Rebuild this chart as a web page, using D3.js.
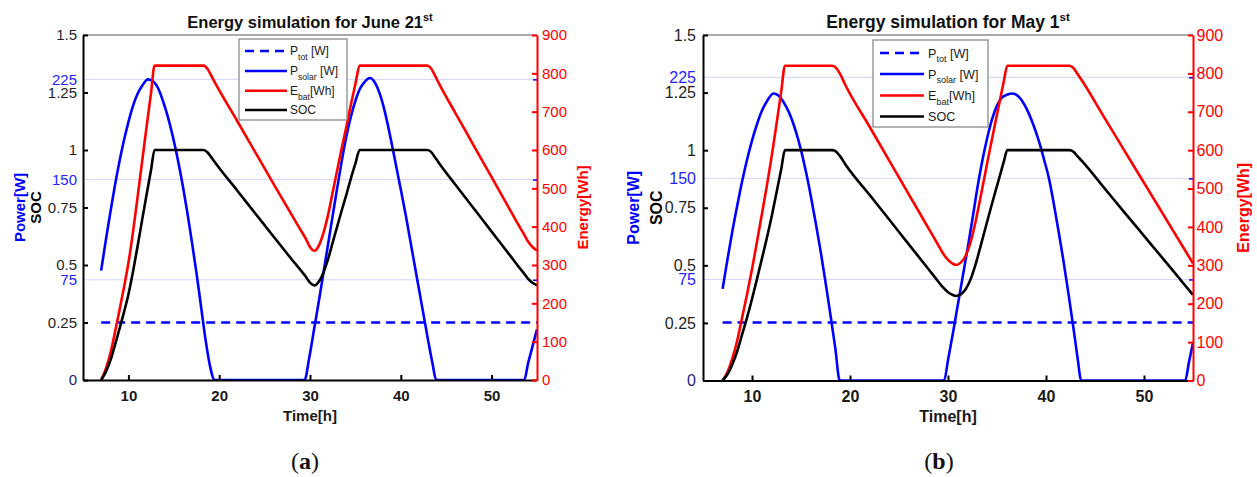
<!DOCTYPE html>
<html>
<head>
<meta charset="utf-8">
<script src="https://cdn.jsdelivr.net/npm/d3@7"></script>
<style>
  html, body { margin: 0; padding: 0; background: #fff; }
  svg { display: block; }
</style>
</head>
<body>
<svg id="fig" width="1257" height="477"></svg>
<script>
// ---- shared axes content ----
const timeDomain = [5, 55];
const socDomain = [0, 1.5];
const energyDomain = [0, 900];
const timeTicks = [10, 20, 30, 40, 50];
const socTicks = [0, 0.25, 0.5, 0.75, 1, 1.25, 1.5];
const socTickLabels = ["0", "0.25", "0.5", "0.75", "1", "1.25", "1.5"];
const powerTicks = [0, 75, 150, 225];
const energyTicks = [0, 100, 200, 300, 400, 500, 600, 700, 800, 900];
const legendLabels = [["P", "tot", " [W]"], ["P", "solar", " [W]"], ["E", "bat", "[Wh]"], ["SOC", "", ""]];
const panelTitles = ["Energy simulation for June 21", "Energy simulation for May 1"];
const panelLetters = ["a", "b"];

// ---- June 21st ----
const juneLoadT = [7, 55];
const juneLoadW = [43, 43];
const juneSolarT = [7, 7.5, 8, 8.5, 9, 9.5, 10, 10.5, 11, 11.5, 12.15, 12.8, 13.3, 13.8, 14.3, 14.9, 15.5, 16, 16.5, 17,
  17.5, 18, 18.5, 19, 19.5, 29.4, 29.9, 30.5, 31, 31.5, 32, 32.5, 33, 33.5, 34, 34.5, 35, 35.5, 36, 36.6,
  37.2, 37.7, 38.2, 38.6, 39.2, 39.9, 40.5, 41, 41.5, 42, 42.5, 43, 43.5, 43.9, 53.6, 54, 54.5, 55];
const juneSolarW = [82, 104, 125, 145, 163, 179, 193, 205, 214, 220, 225, 223, 218, 209, 198, 182, 163, 145, 125, 103,
  80, 55, 30, 10, 0, 0, 16, 40, 60, 81, 102, 123, 144, 164, 182, 197, 209, 218, 223, 226,
  222, 214, 202, 190, 170, 146, 125, 106, 87, 68, 49, 30, 12, 0, 0, 12, 25, 38];
const juneBatT = [7, 7.5, 8, 8.5, 9, 9.5, 10, 10.5, 11, 11.5, 12, 12.5, 12.88,
  18.3, 18.7, 19.1, 19.67, 22, 24, 26, 28, 29, 29.5,
  30, 30.5, 31, 31.5, 32, 32.5, 33, 33.5, 34, 34.5,
  35, 35.47, 42.9, 43.3, 43.7, 44.3, 46, 48, 50, 52,
  53, 53.5, 54, 54.5, 55];
const juneBatWh = [0, 28, 68, 122, 180, 240, 305, 385, 475, 568, 660, 750, 820,
  820, 812, 795, 770, 675, 593, 511, 430, 390, 370,
  347, 337, 352, 385, 432, 490, 548, 605, 660, 718,
  772, 820, 820, 814, 797, 769, 697, 613, 529, 445,
  403, 383, 362, 347, 338];
const juneSoc = [0, 0.034, 0.083, 0.149, 0.22, 0.293, 0.372, 0.47, 0.579, 0.693, 0.805, 0.915, 1,
  1, 0.99, 0.97, 0.939, 0.823, 0.723, 0.623, 0.524, 0.476, 0.451,
  0.423, 0.411, 0.429, 0.47, 0.527, 0.598, 0.668, 0.738, 0.805, 0.876,
  0.941, 1, 1, 0.993, 0.972, 0.938, 0.85, 0.748, 0.645, 0.543,
  0.491, 0.467, 0.441, 0.423, 0.412];

// ---- May 1st ----
const mayLoadT = [7, 55];
const mayLoadW = [43, 43];
const maySolarT = [7, 7.5, 8, 8.5, 9, 9.5, 10, 10.5, 11, 11.5, 12.2, 12.9, 13.5, 14, 14.55, 15, 15.56, 16, 16.5, 17,
  17.5, 18, 18.5, 18.95, 29.6, 30, 30.5, 31, 31.5, 32, 32.5, 33, 33.5, 34, 34.5, 35, 35.5, 36, 36.6, 37.3,
  38, 38.7, 39.3, 39.8, 40.3, 40.8, 41.3, 41.8, 42.3, 42.8, 43.2, 43.6, 54.2, 54.6, 55];
const maySolarW = [68, 90, 111, 130, 148, 164, 178, 190, 200, 207, 213, 210, 203, 195, 183, 171, 153, 137, 117, 96,
  73, 49, 24, 0, 0, 15, 35, 56, 77, 98, 120, 143, 163, 180, 194, 204, 210, 212, 213, 210,
  202, 190, 177, 164, 150, 131, 110, 88, 64, 39, 18, 0, 0, 14, 28];
const mayBatT = [7, 7.5, 8, 8.5, 9, 9.5, 10, 10.5, 11, 11.5, 12, 12.5, 13, 13.36,
  18.2, 18.6, 19, 19.5, 22, 24, 26, 28, 29, 29.5,
  30, 30.5, 30.8, 31.3, 31.8, 32.3, 32.8, 33.3, 33.8, 34.3,
  34.8, 35.3, 35.7, 36.05, 42.4, 42.8, 43.2, 43.7, 46, 48,
  50, 52, 54, 55];
const mayBatWh = [0, 22, 58, 105, 165, 225, 290, 360, 432, 505, 583, 668, 756, 820,
  820, 814, 798, 771, 661, 573, 485, 397, 353, 331,
  314, 304, 301, 307, 325, 360, 412, 475, 540, 605,
  668, 730, 780, 820, 820, 814, 799, 780, 683, 599,
  515, 431, 347, 305];
const maySoc = [0, 0.027, 0.071, 0.128, 0.201, 0.274, 0.354, 0.439, 0.527, 0.616, 0.711, 0.815, 0.922, 1,
  1, 0.993, 0.973, 0.94, 0.806, 0.699, 0.591, 0.484, 0.43, 0.404,
  0.383, 0.371, 0.367, 0.374, 0.396, 0.439, 0.502, 0.579, 0.659, 0.738,
  0.815, 0.89, 0.951, 1, 1, 0.993, 0.974, 0.951, 0.833, 0.73,
  0.628, 0.526, 0.423, 0.372];

const SANS = "'Liberation Sans', Arial, Helvetica, sans-serif";
const SERIF = "'Liberation Serif', 'Times New Roman', serif";
const BLUE = "#0000ff", RED = "#ff0000", BLACK = "#000000";

const svg = d3.select("#fig");
const defs = svg.append("defs");

function drawPanel(p) {
  const x = d3.scaleLinear().domain(timeDomain).range([p.left, p.right]);
  const ySoc = d3.scaleLinear().domain(socDomain).range([p.bottom, p.top]);
  const yEnergy = d3.scaleLinear().domain(energyDomain).range([p.bottom, p.top]);
  const yPower = d3.scaleLinear().domain([0, p.powerMax]).range([p.bottom, p.top]);
  const fs = p.fontSize;
  const g = svg.append("g").attr("font-family", SANS);

  defs.append("clipPath").attr("id", p.id + "-clip")
    .append("rect")
    .attr("x", p.left).attr("y", p.top)
    .attr("width", p.right - p.left).attr("height", p.bottom - p.top);

  // faint grid at the power ticks
  g.append("g").selectAll("line").data(powerTicks.slice(1)).join("line")
    .attr("x1", p.left).attr("x2", p.right)
    .attr("y1", d => yPower(d)).attr("y2", d => yPower(d))
    .attr("stroke", "#d3d3ff").attr("stroke-width", 1);

  // top edge of the box
  g.append("line")
    .attr("x1", p.left).attr("x2", p.right).attr("y1", p.top).attr("y2", p.top)
    .attr("stroke", "#8c8c8c").attr("stroke-width", 1.3);

  // curves
  const plot = g.append("g").attr("clip-path", `url(#${p.id}-clip)`);
  const pathOf = (ts, vs, scale) => d3.line()
    .x(d => x(d[0])).y(d => scale(d[1]))
    .curve(d3.curveMonotoneX)(d3.zip(ts, vs));
  const series = [
    { d: pathOf(p.loadT, p.loadW, yPower), color: BLUE, dash: "9 6" },
    { d: pathOf(p.solarT, p.solarW, yPower), color: BLUE, dash: null },
    { d: pathOf(p.batT, p.batWh, yEnergy), color: RED, dash: null },
    { d: pathOf(p.batT, p.soc, ySoc), color: BLACK, dash: null }
  ];
  series.forEach(s => {
    plot.append("path").attr("d", s.d)
      .attr("fill", "none").attr("stroke", s.color).attr("stroke-width", 2.6)
      .attr("stroke-linejoin", "round")
      .attr("stroke-dasharray", s.dash);
  });

  // power labels (left, blue)
  const gp = g.append("g").attr("transform", `translate(${p.left},0)`)
    .call(d3.axisLeft(yPower).tickValues(powerTicks).tickSize(0).tickPadding(p.leftPad));
  gp.attr("font-family", SANS).attr("font-size", fs);
  gp.select(".domain").remove();
  gp.selectAll("text").attr("fill", d => d === 0 ? "#1d1d78" : "#2424ff");

  // power tick marks on the right edge
  const gpr = g.append("g").attr("transform", `translate(${p.right},0)`)
    .call(d3.axisRight(yPower).tickValues(powerTicks.slice(1)).tickSize(-4).tickFormat(""));
  gpr.select(".domain").remove();
  gpr.selectAll(".tick line").attr("stroke", BLUE).attr("stroke-width", 1.5);

  // time axis
  const gx = g.append("g").attr("transform", `translate(0,${p.bottom})`)
    .call(d3.axisBottom(x).tickValues(timeTicks).tickSize(-5).tickSizeOuter(0).tickPadding(p.bottomPad));
  gx.attr("font-family", SANS).attr("font-size", fs);
  gx.select(".domain").attr("stroke", BLACK).attr("stroke-width", 2);
  gx.selectAll(".tick line").attr("stroke", BLACK).attr("stroke-width", 2);
  gx.selectAll("text").attr("fill", "#1a1a1a").attr("font-weight", "bold");

  // SOC axis (left)
  const gs = g.append("g").attr("transform", `translate(${p.left},0)`)
    .call(d3.axisLeft(ySoc).tickValues(socTicks)
      .tickFormat(d => d === 0 ? "" : socTickLabels[socTicks.indexOf(d)])
      .tickSize(-5).tickSizeOuter(0).tickPadding(p.leftPad));
  gs.attr("font-family", SANS).attr("font-size", fs);
  gs.select(".domain").attr("stroke", BLACK).attr("stroke-width", 2);
  gs.selectAll(".tick line").attr("stroke", BLACK).attr("stroke-width", 2);
  gs.selectAll("text").attr("fill", "#1f1f1f");

  // energy axis (right)
  const ge = g.append("g").attr("transform", `translate(${p.right},0)`)
    .call(d3.axisRight(yEnergy).tickValues(energyTicks).tickSize(-5).tickSizeOuter(0).tickPadding(p.rightPad));
  ge.attr("font-family", SANS).attr("font-size", fs);
  ge.select(".domain").attr("stroke", RED).attr("stroke-width", 2);
  ge.selectAll(".tick line").attr("stroke", RED).attr("stroke-width", 2);
  ge.selectAll("text").attr("fill", RED);

  // axis titles
  const midY = (p.top + p.bottom) / 2;
  const yTitle = (xPos, color, label) => g.append("text")
    .attr("transform", `translate(${xPos},${midY}) rotate(-90)`)
    .attr("text-anchor", "middle").attr("font-weight", "bold")
    .attr("font-size", fs).attr("fill", color).text(label);
  yTitle(p.powerTitleX, BLUE, "Power[W]");
  yTitle(p.socTitleX, BLACK, "SOC");
  yTitle(p.energyTitleX, RED, "Energy[Wh]");

  g.append("text")
    .attr("x", (p.left + p.right) / 2).attr("y", p.timeTitleY)
    .attr("text-anchor", "middle").attr("font-weight", "bold")
    .attr("font-size", fs).attr("fill", "#1a1a1a").text("Time[h]");

  // chart title with ordinal superscript
  const title = g.append("text")
    .attr("x", (p.left + p.right) / 2).attr("y", 27.5)
    .attr("text-anchor", "middle").attr("font-weight", "bold")
    .attr("font-size", p.titleSize).attr("fill", "#111");
  title.append("tspan").text(p.title);
  title.append("tspan").attr("dy", -7).attr("font-size", p.titleSize * 0.66).text("st");

  // legend
  const L = p.legend;
  const lg = g.append("g");
  lg.append("rect")
    .attr("x", L.x).attr("y", L.y).attr("width", L.w).attr("height", L.h)
    .attr("fill", "#fff").attr("stroke", "#8a8a8a").attr("stroke-width", 1.3);
  legendLabels.forEach((lab, i) => {
    const yy = L.rows[i];
    lg.append("line")
      .attr("x1", L.x0).attr("x2", L.x1).attr("y1", yy).attr("y2", yy)
      .attr("stroke", series[i].color).attr("stroke-width", 2.6)
      .attr("stroke-dasharray", series[i].dash);
    const t = lg.append("text")
      .attr("x", L.tx).attr("y", yy + L.fs * 0.36)
      .attr("font-size", L.fs).attr("fill", "#1a1a1a");
    t.append("tspan").text(lab[0]);
    if (lab[1]) {
      t.append("tspan").attr("dy", L.fs * 0.38).attr("font-size", L.fs * 0.72).text(lab[1]);
      t.append("tspan").attr("dy", -L.fs * 0.38).text(lab[2]);
    }
  });

  // panel letter
  const letter = svg.append("text")
    .attr("x", p.letterX).attr("y", 469)
    .attr("text-anchor", "middle").attr("font-family", SERIF)
    .attr("font-size", 24).attr("fill", "#111");
  letter.append("tspan").text("(");
  letter.append("tspan").attr("font-weight", "bold").text(p.letter);
  letter.append("tspan").text(")");
}

drawPanel({
  id: "june", left: 83, right: 537, top: 35, bottom: 380, powerMax: 258.2,
  fontSize: 15, titleSize: 16.5, leftPad: 6, rightPad: 5, bottomPad: 10,
  title: panelTitles[0], letter: panelLetters[0], letterX: 305,
  powerTitleX: 24.5, socTitleX: 41, energyTitleX: 588, timeTitleY: 421,
  loadT: juneLoadT, loadW: juneLoadW, solarT: juneSolarT, solarW: juneSolarW,
  batT: juneBatT, batWh: juneBatWh, soc: juneSoc,
  legend: { x: 239, y: 39, w: 108, h: 81, rows: [51, 71, 90.7, 110], x0: 245, x1: 287, tx: 290, fs: 12 }
});

drawPanel({
  id: "may", left: 703, right: 1193, top: 35, bottom: 380.5, powerMax: 256.4,
  fontSize: 16, titleSize: 17.5, leftPad: 7, rightPad: 3.5, bottomPad: 10.5,
  title: panelTitles[1], letter: panelLetters[1], letterX: 939,
  powerTitleX: 638.5, socTitleX: 662, energyTitleX: 1249, timeTitleY: 421.5,
  loadT: mayLoadT, loadW: mayLoadW, solarT: maySolarT, solarW: maySolarW,
  batT: mayBatT, batWh: mayBatWh, soc: maySoc,
  legend: { x: 873, y: 40, w: 115, h: 87, rows: [53, 74, 95.5, 116.5], x0: 880, x1: 924, tx: 928, fs: 12.6 }
});
</script>
</body>
</html>
